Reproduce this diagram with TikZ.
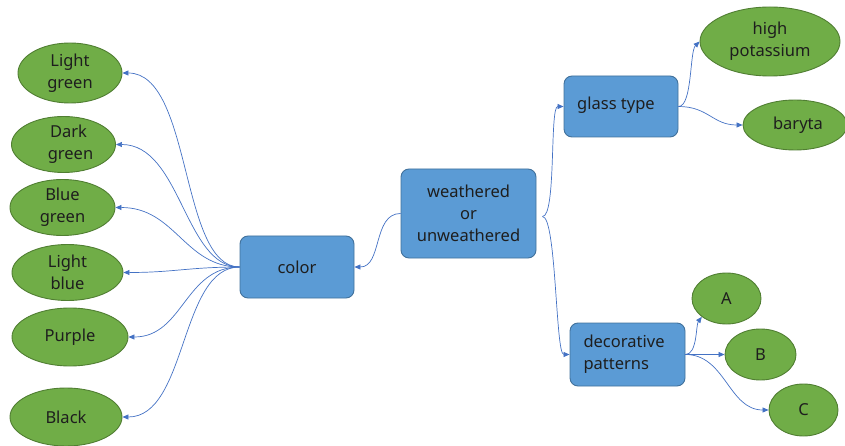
\documentclass[tikz,border=0pt]{standalone}
\usepackage{fontspec}
\setmainfont{Noto Sans}
\usetikzlibrary{shapes.geometric,arrows.meta,calc}
\definecolor{boxfill}{HTML}{5B9BD5}
\definecolor{boxline}{HTML}{41719C}
\definecolor{ellfill}{HTML}{70AD47}
\definecolor{ellline}{HTML}{507E32}
\definecolor{conn}{HTML}{4472C4}
\definecolor{txt}{HTML}{1E1E1E}
\tikzset{
  boxnode/.style={draw=boxline, fill=boxfill, line width=0.9pt, rounded corners=8pt, inner sep=0pt, text=txt, align=center, font=\fontsize{16.5}{22}\selectfont},
  ellnode/.style={ellipse, draw=ellline, fill=ellfill, line width=0.9pt, inner sep=0pt, text=txt, align=center, font=\fontsize{16.5}{22}\selectfont},
  link/.style={draw=conn, line width=0.7pt, -{Triangle[length=6pt,width=5pt]}}
}
\begin{document}
\begin{tikzpicture}[x=1pt,y=-1pt]
\useasboundingbox (0,0) rectangle (845,446);
% blue boxes
\node[boxnode, minimum width=114pt, minimum height=62pt] (color) at (297,267) {color};
\node[boxnode, minimum width=135pt, minimum height=89pt] (wea) at (468.5,213.5) {weathered\\or\\unweathered};
\node[boxnode, minimum width=114pt, minimum height=61pt] (glass) at (621,106.5) {};
\node at (616,105) [text=txt, font=\fontsize{16.5}{22}\selectfont] {glass type};
\node[boxnode, minimum width=115pt, minimum height=63pt] (deco) at (627.5,354.5) {};
\node[anchor=west, text=txt, align=left, font=\fontsize{16.5}{22}\selectfont] at (580,354) {decorative\\patterns};
% green ellipses left
\node[ellnode, minimum width=104pt, minimum height=60pt] (lg) at (70,73) {Light\\green};
\node[ellnode, minimum width=104pt, minimum height=56pt] (dg) at (63.5,144.5) {\hspace*{10pt}Dark\\\hspace*{14pt}green};
\node[ellnode, minimum width=105pt, minimum height=56pt] (bg) at (62.5,207.5) {Blue\\green};
\node[ellnode, minimum width=111pt, minimum height=56pt] (lb) at (67.5,272.5) {Light\\blue};
\node[ellnode, minimum width=116pt, minimum height=58pt] (pu) at (70,337) {Purple};
\node[ellnode, minimum width=112pt, minimum height=58pt] (bl) at (66,417) {Black};
% green ellipses right
\node[ellnode, minimum width=140pt, minimum height=69pt] (hp) at (770,41.5) {high\\potassium};
\node[ellnode, minimum width=104pt, minimum height=50pt] (ba) at (795,125) {\hspace*{6pt}baryta};
\node[ellnode, minimum width=69pt, minimum height=51pt] (A) at (726.5,298.5) {A};
\node[ellnode, minimum width=71pt, minimum height=51pt] (B) at (760.5,354.5) {B};
\node[ellnode, minimum width=69pt, minimum height=52pt] (C) at (803.5,410) {C};
% connectors
\coordinate (ws) at ($(wea.east)+(6,3)$);
\coordinate (cs) at (color.west);
\draw[link] (cs) .. controls +(-60,0) and +(70,0) .. (lg.east);
\draw[link] (cs) .. controls +(-55,0) and +(65,0) .. (dg.east);
\draw[link] (cs) .. controls +(-55,0) and +(60,0) .. (bg.east);
\draw[link] (cs) .. controls +(-50,0) and +(50,0) .. (lb.east);
\draw[link] (cs) .. controls +(-55,0) and +(55,0) .. (pu.east);
\draw[link] (cs) .. controls +(-60,0) and +(65,0) .. (bl.east);
\draw[link] (wea.west) .. controls +(-28,0) and +(28,0) .. (color.east);
\draw[link] (ws) .. controls +(14,0) and +(-14,0) .. (glass.west);
\draw[link] (ws) .. controls +(14,0) and +(-14,0) .. (deco.west);
\draw[link] (glass.east) .. controls +(14,0) and +(-10,10) .. (hp.west);
\draw[link] (glass.east) .. controls +(30,0) and +(-30,0) .. (ba.west);
\coordinate (ds) at (deco.east);
\draw[link] (ds) .. controls +(12,0) and +(-6,8) .. (A.south west);
\draw[link] (ds) -- (B.west);
\draw[link] (ds) .. controls +(40,0) and +(-40,0) .. (C.west);
\end{tikzpicture}
\end{document}
